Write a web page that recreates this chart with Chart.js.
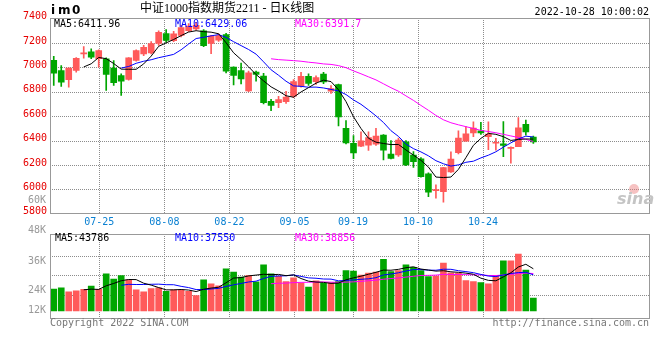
<!DOCTYPE html>
<html>
<head>
<meta charset="utf-8">
<title>中证1000指数期货2211 - 日K线图</title>
<script src="https://cdn.jsdelivr.net/npm/chart.js@4.4.0/dist/chart.umd.min.js"></script>
<style>
  html, body { margin: 0; padding: 0; background: #fff; }
  #wrap { position: relative; width: 660px; height: 360px; overflow: hidden; }
  #kline { position: absolute; left: 0; top: 0; }
  #volume { position: absolute; left: 0; top: 222px; }
</style>
</head>
<body>
<div id="wrap">
  <canvas id="kline" width="660" height="230"></canvas>
  <canvas id="volume" width="660" height="138"></canvas>
</div>
<script>
// Trading days shown on the chart (MM-DD)
const dates = [
  '07-22', '07-25', '07-26', '07-27', '07-28', '07-29',
  '08-01', '08-02', '08-03', '08-04', '08-05', '08-08', '08-09', '08-10', '08-11', '08-12',
  '08-15', '08-16', '08-17', '08-18', '08-19', '08-22', '08-23', '08-24', '08-25', '08-26',
  '08-29', '08-30', '08-31', '09-01', '09-02', '09-05', '09-06', '09-07', '09-08', '09-09',
  '09-13', '09-14', '09-15', '09-16', '09-19', '09-20', '09-21', '09-22', '09-23',
  '09-26', '09-27', '09-28', '09-29', '09-30', '10-10', '10-11', '10-12', '10-13', '10-14',
  '10-17', '10-18', '10-19', '10-20', '10-21', '10-24', '10-25', '10-26', '10-27', '10-28'
];

// Date labels under the price pane
const tickLabels = ['07-25', '08-08', '08-22', '09-05', '09-19', '10-10', '10-24'];

const openPrices = [
  7057, 6974, 6898, 6974, 7110, 7127, 7070, 7070, 6993, 6933,
  6901, 7056, 7110, 7118, 7195, 7276, 7218, 7262, 7300, 7315,
  7300, 7195, 7222, 7268, 7001, 6974, 6806, 6962, 6928, 6722,
  6710, 6718, 6764, 6845, 6926, 6882, 6945, 6805, 6859, 6500,
  6377, 6355, 6363, 6371, 6444, 6290, 6282, 6390, 6282, 6250,
  6127, 5990, 5982, 6143, 6300, 6396, 6463, 6480, 6432, 6378,
  6373, 6335, 6349, 6534, 6428
];
const highPrices = [
  7090, 7015, 6995, 7080, 7170, 7151, 7143, 7078, 7056, 6947,
  7080, 7143, 7180, 7210, 7300, 7310, 7295, 7345, 7358, 7368,
  7310, 7262, 7275, 7278, 7005, 7035, 6970, 6970, 6950, 6737,
  6763, 6803, 6900, 6960, 6947, 6930, 6960, 6851, 6862, 6563,
  6440, 6471, 6471, 6500, 6450, 6400, 6420, 6400, 6310, 6260,
  6135, 6037, 6180, 6308, 6480, 6515, 6553, 6550, 6553, 6418,
  6555, 6349, 6589, 6567, 6436
];
const lowPrices = [
  6852, 6844, 6838, 6960, 7075, 7070, 7001, 6811, 6852, 6770,
  6895, 7050, 7095, 7110, 7180, 7205, 7210, 7250, 7292, 7305,
  7170, 7112, 7212, 6955, 6855, 6865, 6800, 6887, 6700, 6645,
  6670, 6705, 6752, 6838, 6852, 6860, 6866, 6786, 6519, 6373,
  6252, 6350, 6320, 6360, 6241, 6250, 6270, 6195, 6180, 6100,
  5940, 5929, 5895, 6140, 6290, 6396, 6431, 6450, 6325, 6322,
  6268, 6214, 6349, 6445, 6377
];
const closePrices = [
  6953, 6879, 6993, 7074, 7118, 7083, 7137, 6942, 6874, 6887,
  7078, 7137, 7164, 7195, 7286, 7220, 7275, 7325, 7337, 7345,
  7178, 7255, 7260, 6968, 6933, 6906, 6955, 6942, 6711, 6687,
  6736, 6757, 6884, 6926, 6868, 6915, 6880, 6825, 6594, 6380,
  6298, 6398, 6425, 6436, 6322, 6253, 6404, 6200, 6227, 6105,
  5978, 5997, 6178, 6249, 6420, 6455, 6503, 6463, 6453, 6383,
  6360, 6345, 6504, 6471, 6388
];

// Moving-average lines as drawn, they only start once enough days exist
const lead = (n) => Array(n).fill(null);
const ma5 = lead(4).concat([
  7003, 7029, 7081, 7071, 7031, 6985, 6984, 6984, 7028, 7092,
  7172, 7200, 7228, 7260, 7289, 7300, 7292, 7288, 7275, 7201,
  7119, 7064, 7004, 6941, 6889, 6840, 6806, 6767, 6755, 6798,
  6834, 6870, 6895, 6883, 6816, 6719, 6595, 6499, 6419, 6387,
  6376, 6367, 6368, 6323, 6281, 6238, 6183, 6101, 6097, 6101,
  6164, 6260, 6361, 6418, 6459, 6451, 6432, 6401, 6409, 6413, 6412
]);
const ma10 = lead(9).concat([
  6994, 7007, 7033, 7050, 7062, 7079, 7092, 7106, 7144, 7191,
  7236, 7246, 7258, 7268, 7245, 7210, 7178, 7146, 7108, 7045,
  6980, 6935, 6886, 6848, 6844, 6837, 6838, 6831, 6819, 6807,
  6777, 6733, 6697, 6651, 6602, 6548, 6481, 6434, 6371, 6334,
  6307, 6275, 6235, 6210, 6191, 6201, 6222, 6231, 6258, 6280,
  6308, 6346, 6381, 6414, 6436, 6429
]);
const ma30 = lead(29).concat([
  7070, 7063, 7059, 7055, 7050, 7042, 7036, 7028, 7024, 7014,
  6997, 6971, 6947, 6922, 6897, 6865, 6833, 6804, 6766, 6729,
  6688, 6648, 6606, 6570, 6546, 6529, 6514, 6499, 6483, 6474,
  6464, 6451, 6438, 6425, 6410, 6392
]);

const volumes = [
  22800, 23900, 19900, 20900, 22600, 25900, 22600, 38600, 33200, 36600,
  32400, 22000, 19900, 23300, 23900, 20500, 22000, 21800, 20400, 16100,
  32400, 28200, 26100, 43600, 40400, 35100, 36800, 30300, 47900, 38600,
  36000, 30400, 34400, 29000, 24900, 31400, 28700, 29300, 30400, 42000,
  41500, 37300, 39400, 40400, 53500, 40800, 41800, 47800, 45300, 41800,
  35600, 36300, 49800, 39700, 39100, 31500, 30500, 29400, 28300, 36900,
  51900, 51900, 59100, 42500, 13500
];
const volMa5 = lead(4).concat([
  22020, 22640, 22380, 26120, 28580, 31380, 32680, 32560, 28820, 26840,
  24300, 21920, 21920, 22300, 21720, 20160, 22540, 23780, 24640, 29280,
  34140, 34680, 36400, 37240, 38100, 37740, 37920, 36640, 37460, 33680,
  30940, 30020, 29680, 28660, 28940, 32360, 34380, 36100, 38120, 40120,
  42420, 42280, 43180, 44860, 45840, 43500, 42460, 41360, 41760, 40640,
  40100, 39280, 38120, 34040, 31760, 31320, 35400, 39680, 45620, 48460, 43786
]);
const volMa10 = lead(9).concat([
  26700, 27660, 27470, 27470, 27710, 27840, 27300, 27240, 25560, 24280,
  22230, 22230, 22850, 23470, 25500, 27150, 28610, 30090, 30940, 33690,
  35940, 36300, 36520, 37350, 35890, 34340, 33970, 33160, 33060, 31310,
  31650, 32200, 32890, 33390, 34530, 37390, 38330, 39640, 41490, 42980,
  42960, 42370, 42270, 43310, 43240, 41800, 40870, 39740, 37900, 36200,
  35710, 37340, 38900, 39830, 40110, 37550
]);
const volMa30 = lead(29).concat([
  28290, 28730, 28950, 29430, 29700, 29780, 29960, 30160, 29850, 29760,
  29940, 30240, 30750, 31400, 31970, 32960, 33640, 34300, 35160, 35990,
  36850, 36960, 37230, 38020, 37890, 37840, 37720, 37510, 37480, 36830,
  36770, 37300, 38020, 38840, 39290, 38856
]);

// Volume pane grid rows
const volGridValues = [16300, 37300, 57300];

/* ---------- styling ---------- */
const SLOTS = 80;        // candle slots across the pane, the right side stays empty
const GRID_SLOTS = 79;   // sina spaces the date grid a little wider than the candles
const UP = '#ff5a5a';
const DOWN = '#00a600';
const GRID = '#8c8c8c';
const MONO = '"DejaVu Sans Mono", monospace';

const slotLabels = dates.concat(Array(SLOTS - dates.length).fill(''));
const candleColors = closePrices.map((c, i) => (c >= openPrices[i] ? UP : DOWN));

/**
 * Line dataset for one moving average
 */
function maLine(label, data, color) {
  return {
    type: 'line',
    label: label,
    data: data,
    borderColor: color,
    borderWidth: 1,
    pointRadius: 0,
    tension: 0,
    fill: false,
    xAxisID: 'x',
    yAxisID: 'y',
    order: 0
  };
}

// grid lines are painted by dottedGrid, the axes only keep their labels
const noGrid = { display: true, drawOnChartArea: false, drawTicks: false, color: 'rgba(0,0,0,0)' };

/**
 * Date grid axis shared by both panes
 */
function dateGridAxis(showLabels, height) {
  return {
    type: 'linear',
    axis: 'x',
    position: 'bottom',
    min: 0,
    max: GRID_SLOTS,
    afterBuildTicks: (s) => {
      s.ticks = tickLabels.map((t) => ({ value: dates.indexOf(t) }));
    },
    afterFit: (s) => { s.height = height; },
    grid: noGrid,
    border: { display: false },
    ticks: {
      display: showLabels,
      color: '#0a80d2',
      font: { family: MONO, size: 10 },
      padding: 3,
      maxRotation: 0,
      autoSkip: false,
      callback: (v) => dates[v]
    }
  };
}

/**
 * Dotted grid at the tick positions of the y and date axes,
 * one pixel on, one pixel off
 */
const dottedGrid = {
  id: 'dottedGrid',
  beforeDatasetsDraw(chart) {
    const { ctx, chartArea: a, scales } = chart;
    const left = Math.floor(a.left);
    const right = Math.floor(a.right);
    const top = Math.floor(a.top);
    const bottom = Math.floor(a.bottom);
    ctx.save();
    ctx.fillStyle = GRID;
    scales.y.ticks.forEach((t) => {
      const y = Math.round(scales.y.getPixelForValue(t.value));
      if (y <= top + 1 || y >= bottom - 1) return;
      for (let x = left + 2; x < right; x += 2) ctx.fillRect(x, y, 1, 1);
    });
    scales.xg.ticks.forEach((t) => {
      const x = Math.round(scales.xg.getPixelForValue(t.value));
      for (let y = top + 2; y < bottom; y += 2) ctx.fillRect(x, y, 1, 1);
    });
    ctx.restore();
  }
};

/**
 * Grey frame round the plot area
 */
const framePlugin = {
  id: 'frame',
  afterDraw(chart) {
    const { ctx, chartArea: a } = chart;
    const x0 = Math.floor(a.left) + 0.5;
    const y0 = Math.floor(a.top) + 0.5;
    const x1 = Math.floor(a.right) + 0.5;
    const y1 = Math.floor(a.bottom) + 0.5;
    ctx.save();
    ctx.strokeStyle = '#999';
    ctx.lineWidth = 1;
    ctx.strokeRect(x0, y0, x1 - x0, y1 - y0);
    ctx.restore();
  }
};

/**
 * Plain text items painted over a chart
 */
function textPlugin(id, items, extra) {
  return {
    id: id,
    afterDraw(chart) {
      const ctx = chart.ctx;
      ctx.save();
      ctx.textBaseline = 'middle';
      items.forEach((it) => {
        ctx.font = it.font || '10px ' + MONO;
        ctx.fillStyle = it.color || '#000';
        ctx.textAlign = it.align || 'left';
        ctx.fillText(it.text, it.x, it.y);
      });
      if (extra) extra(ctx);
      ctx.restore();
    }
  };
}

const klineText = textPlugin('klineText', [
  { text: 'i', x: 51, y: 11, font: 'bold 12px "DejaVu Sans"' },
  { text: 'm', x: 58, y: 11, font: 'bold 12px "DejaVu Sans"' },
  { text: '0', x: 72, y: 11, font: 'bold 12px "DejaVu Sans"' },
  { text: '中证1000指数期货2211 - 日K线图', x: 140, y: 8.5, font: '12px "Liberation Serif", "Noto Sans CJK SC"' },
  { text: '2022-10-28 10:00:02', x: 649, y: 12.5, align: 'right' },
  { text: 'MA5:6411.96', x: 54, y: 24 },
  { text: 'MA10:6429.06', x: 175, y: 24, color: '#0000ff' },
  { text: 'MA30:6391.7', x: 295, y: 24, color: '#ff00ff' },
  { text: '60K', x: 46, y: 200.7, align: 'right', color: '#999' }
], (ctx) => {
  // faint sina watermark
  ctx.fillStyle = 'rgba(235, 120, 120, 0.45)';
  ctx.beginPath();
  ctx.arc(634, 189, 5, 0, Math.PI * 2);
  ctx.fill();
  ctx.font = 'italic bold 16px "DejaVu Sans"';
  ctx.fillStyle = '#c4c4c4';
  ctx.textAlign = 'left';
  ctx.fillText('sina', 617, 200);
});

const volumeText = textPlugin('volumeText', [
  { text: '48K', x: 46, y: 8.7, align: 'right', color: '#999' },
  { text: '36K', x: 46, y: 39, align: 'right', color: '#999' },
  { text: '24K', x: 46, y: 68.3, align: 'right', color: '#999' },
  { text: '12K', x: 46, y: 88.5, align: 'right', color: '#999' },
  { text: 'MA5:43786', x: 55, y: 16.3 },
  { text: 'MA10:37550', x: 175, y: 16.3, color: '#0000ff' },
  { text: 'MA30:38856', x: 295, y: 16.3, color: '#ff00ff' },
  { text: 'Copyright 2022 SINA.COM', x: 50, y: 101.7, color: '#777' },
  { text: 'http://finance.sina.com.cn', x: 649, y: 101.7, align: 'right', color: '#777' }
]);

const common = {
  responsive: false,
  animation: false,
  events: [],
  plugins: { legend: { display: false }, tooltip: { enabled: false } }
};

/* ---------- price pane ---------- */
new Chart(document.getElementById('kline'), {
  type: 'bar',
  data: {
    labels: slotLabels,
    datasets: [
      maLine('MA5', ma5, '#000000'),
      maLine('MA10', ma10, '#0000ff'),
      maLine('MA30', ma30, '#ff00ff'),
      {
        label: 'body',
        data: openPrices.map((o, i) => [o, closePrices[i]]),
        backgroundColor: candleColors,
        barThickness: 6,
        minBarLength: 1,
        grouped: false,
        xAxisID: 'x',
        yAxisID: 'y',
        order: 1
      },
      {
        label: 'wick',
        data: lowPrices.map((l, i) => [l, highPrices[i]]),
        backgroundColor: candleColors,
        barThickness: 1,
        grouped: false,
        xAxisID: 'x',
        yAxisID: 'y',
        order: 2
      }
    ]
  },
  options: {
    ...common,
    layout: { padding: { top: 18.5, right: 10.5, left: 0, bottom: 0 } },
    scales: {
      x: { type: 'category', offset: true, display: false },
      xg: dateGridAxis(true, 16.2),
      y: {
        min: 5800,
        max: 7400,
        afterFit: (s) => { s.width = 50; },
        grid: noGrid,
        border: { display: false },
        ticks: {
          stepSize: 200,
          color: '#e60000',
          font: { family: MONO, size: 10 },
          padding: 3,
          labelOffset: -2,
          callback: (v) => String(v)
        }
      }
    }
  },
  plugins: [dottedGrid, framePlugin, klineText]
});

/* ---------- volume pane ---------- */
new Chart(document.getElementById('volume'), {
  type: 'bar',
  data: {
    labels: slotLabels,
    datasets: [
      maLine('MA5', volMa5, '#000000'),
      maLine('MA10', volMa10, '#0000ff'),
      maLine('MA30', volMa30, '#ff00ff'),
      {
        label: 'VOL',
        data: volumes,
        backgroundColor: candleColors,
        barThickness: 6,
        xAxisID: 'x',
        yAxisID: 'y',
        order: 1
      }
    ]
  },
  options: {
    ...common,
    layout: { padding: { top: 12.7, right: 10.5, left: 0, bottom: 41.7 } },
    scales: {
      x: { type: 'category', offset: true, display: false },
      xg: dateGridAxis(false, 0),
      y: {
        min: -7570,
        max: 79120,
        afterFit: (s) => { s.width = 50; },
        afterBuildTicks: (s) => {
          s.ticks = volGridValues.map((v) => ({ value: v }));
        },
        grid: noGrid,
        border: { display: false },
        ticks: { display: false }
      }
    }
  },
  plugins: [dottedGrid, framePlugin, volumeText]
});
</script>
</body>
</html>
